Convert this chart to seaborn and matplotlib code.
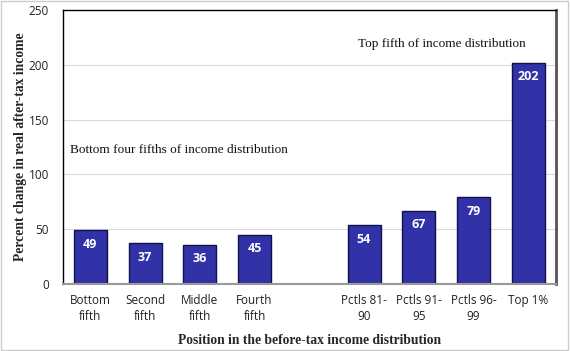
import numpy as np
import pandas as pd
import matplotlib
matplotlib.use("Agg")
import matplotlib.pyplot as plt
import seaborn as sns
from matplotlib.patches import Rectangle

categories = ["Bottom\nfifth", "Second\nfifth", "Middle\nfifth", "Fourth\nfifth", " ",
              "Pctls 81-\n90", "Pctls 91-\n95", "Pctls 96-\n99", "Top 1%"]
values = [49, 37, 36, 45, np.nan, 54, 67, 79, 202]
labels = ["49", "37", "36", "45", "", "54", "67", "79", "202"]

df = pd.DataFrame({"cat": categories, "val": values})

sns.set_theme(style="white")
plt.rcParams['font.family'] = ['Open Sans', 'DejaVu Sans']

fig = plt.figure(figsize=(5.7, 3.51), dpi=100)
ax = fig.add_axes([0.1105, 0.191, 0.8645, 0.78])

sns.barplot(data=df, x="cat", y="val", ax=ax, color="#3232A8", saturation=1,
            width=0.6, edgecolor="#10104A", linewidth=1.0, order=categories)

ax.set_ylim(0, 250)
ax.set_xlim(-0.5, 8.5)
ax.set_yticks([0, 50, 100, 150, 200, 250])
ax.yaxis.grid(True, color="#D9D9D9", linewidth=0.8)
ax.set_axisbelow(True)
ax.tick_params(axis="y", labelsize=8.5, colors="#222222", length=0, pad=10)
ax.tick_params(axis="x", labelsize=8.5, colors="#222222", length=0, pad=7)
ax.set_xticklabels(categories, linespacing=1.3)

for i, (v, lab) in enumerate(zip(values, labels)):
    if lab:
        ax.text(i, v - 13, lab, ha="center", va="center", color="white",
                fontsize=9, fontweight="bold", family=["Open Sans", "DejaVu Sans"])

for s in ["left", "top"]:
    ax.spines[s].set_color("black")
    ax.spines[s].set_linewidth(1.0)
ax.spines["right"].set_color("#555555")
ax.spines["right"].set_linewidth(2.0)
ax.spines["bottom"].set_color("#999999")
ax.spines["bottom"].set_linewidth(1.5)

serif = ["Liberation Serif", "DejaVu Serif"]
ax.text(0.015, 122, "Bottom four fifths of income distribution", ha="left", va="center",
        fontsize=9.5, family=serif, color="#111111", transform=ax.get_yaxis_transform())
ax.text(6.42, 219, "Top fifth of income distribution", ha="center", va="center",
        fontsize=9.5, family=serif, color="#111111")

ax.set_ylabel("Percent change in real after-tax income", fontsize=9.8, fontweight="bold",
              family=serif, labelpad=1)
ax.set_xlabel("Position in the before-tax income distribution", fontsize=9.8, fontweight="bold",
              family=serif, labelpad=8)

fig.patches.append(Rectangle((0.002, 0.003), 0.995, 0.994, transform=fig.transFigure,
                             fill=False, edgecolor="#CCCCCC", linewidth=1.0))

fig.savefig("out.png", dpi=100)
